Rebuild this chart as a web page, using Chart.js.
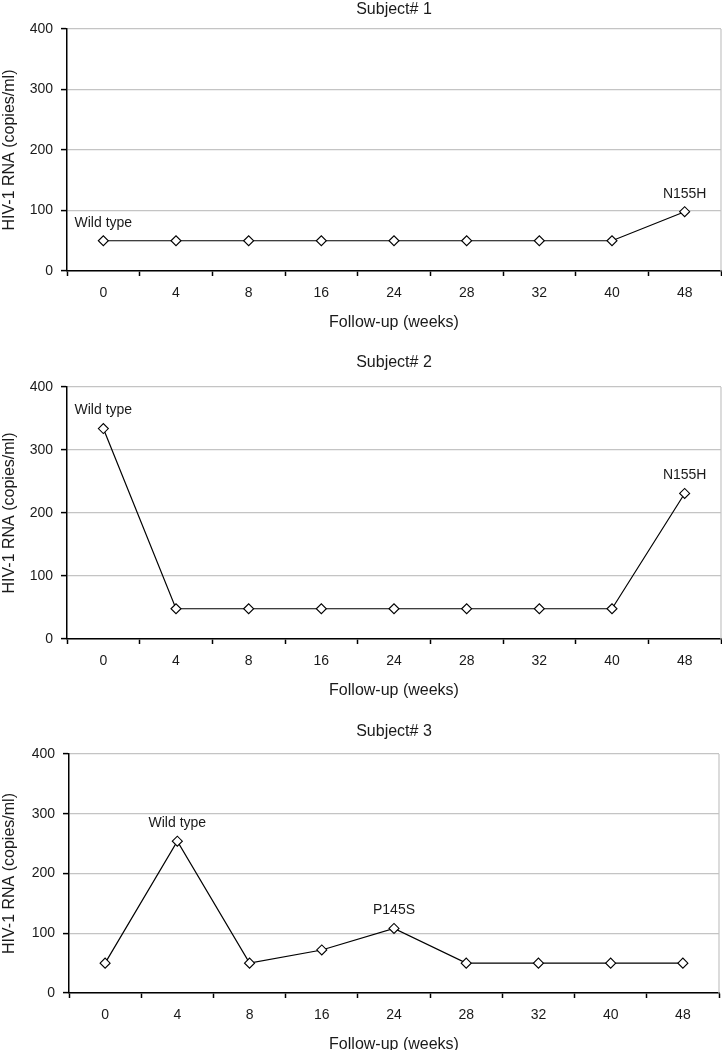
<!DOCTYPE html>
<html>
<head>
<meta charset="utf-8">
<script src="https://cdn.jsdelivr.net/npm/chart.js@4.4.1/dist/chart.umd.min.js"></script>
<style>
  body { margin: 0; background: #fff; overflow: hidden; }
  .panel { position: absolute; left: 0; }
</style>
</head>
<body>
<canvas id="chart1" class="panel" width="722" height="332" style="top:0px"></canvas>
<canvas id="chart2" class="panel" width="722" height="347" style="top:353px"></canvas>
<canvas id="chart3" class="panel" width="722" height="332" style="top:722px"></canvas>
<script>
// semanas de seguimiento (categorias del eje x)
const weeks = ['0', '4', '8', '16', '24', '28', '32', '40', '48']

// carga viral
const subject1 = [50, 50, 50, 50, 50, 50, 50, 50, 98]
const subject2 = [334, 48, 48, 48, 48, 48, 48, 48, 231]
const subject3 = [50, 254, 50, 72, 108, 50, 50, 50, 50]

// etiquetas de mutaciones: [indice de semana, texto]
const notes1 = [[0, 'Wild type'], [8, 'N155H']]
const notes2 = [[0, 'Wild type'], [8, 'N155H']]
const notes3 = [[1, 'Wild type'], [4, 'P145S']]

const yMin = 0
const yMax = 400
const yStep = 100

const FONT = '"Liberation Sans", Arial, sans-serif'
const TEXT = '#1a1a1a'
const GRID = '#c4c4c4'

const notasPlugin = {
  id: 'notas',
  beforeDatasetsDraw(chart) {
    const {ctx, chartArea} = chart
    ctx.save()
    ctx.strokeStyle = GRID
    ctx.lineWidth = 1.2
    ctx.beginPath()
    ctx.moveTo(chartArea.right, chartArea.top)
    ctx.lineTo(chartArea.right, chartArea.bottom)
    ctx.stroke()
    ctx.restore()
  },
  afterDatasetsDraw(chart, args, opts) {
    const {ctx, scales: {x, y}} = chart
    const values = chart.data.datasets[0].data
    ctx.save()
    ctx.font = '14px ' + FONT
    ctx.fillStyle = TEXT
    ctx.textAlign = 'center'
    ctx.textBaseline = 'middle'
    opts.items.forEach(([idx, text]) => {
      ctx.fillText(text, x.getPixelForValue(idx), y.getPixelForValue(values[idx]) - 18)
    })
    ctx.restore()
  }
}

const crearPanel = (canvasId, title, values, notes, titleGap, yWidth, rightPad) => {
  const ctx = document.querySelector(canvasId).getContext('2d')
  new Chart(ctx, {
    type: 'line',
    data: {
      labels: weeks,
      datasets: [{
        data: values,
        borderColor: '#000',
        borderWidth: 1.2,
        tension: 0,
        pointStyle: 'rectRot',
        pointRadius: 5,
        pointBackgroundColor: '#fff',
        pointBorderColor: '#000',
        pointBorderWidth: 1.1
      }]
    },
    options: {
      responsive: false,
      animation: false,
      layout: { autoPadding: false, padding: { left: 0, right: rightPad, top: 0, bottom: 0 } },
      plugins: {
        legend: { display: false },
        tooltip: { enabled: false },
        title: {
          display: true,
          text: title,
          fullSize: false,
          color: TEXT,
          font: { family: FONT, size: 16, weight: 'normal' },
          padding: { top: 0, bottom: titleGap }
        },
        notas: { items: notes }
      },
      scales: {
        x: {
          type: 'category',
          offset: true,
          grid: {
            offset: true,
            drawOnChartArea: false,
            drawTicks: true,
            tickLength: 5,
            tickColor: '#000',
            tickWidth: 1.5
          },
          border: { color: '#000', width: 1.5 },
          ticks: { color: TEXT, padding: 9, font: { family: FONT, size: 14 } },
          title: {
            display: true,
            text: 'Follow-up (weeks)',
            color: TEXT,
            font: { family: FONT, size: 16 },
            padding: { top: 2, bottom: 0 }
          }
        },
        y: {
          min: yMin,
          max: yMax,
          grid: { color: GRID, lineWidth: 1.2, tickColor: '#000', tickLength: 6, tickWidth: 1.5 },
          border: { color: '#000', width: 1.5 },
          ticks: { stepSize: yStep, color: TEXT, padding: 8, font: { family: FONT, size: 14 } },
          title: {
            display: true,
            text: 'HIV-1 RNA (copies/ml)',
            color: TEXT,
            font: { family: FONT, size: 16 },
            padding: { top: 0, bottom: 0 }
          },
          afterFit: (scale) => { scale.width = yWidth }
        }
      }
    },
    plugins: [notasPlugin]
  })
}

crearPanel('#chart1', 'Subject# 1', subject1, notes1, 9.8, 67, 1)
crearPanel('#chart2', 'Subject# 2', subject2, notes2, 14.8, 67, 1)
crearPanel('#chart3', 'Subject# 3', subject3, notes3, 12.8, 69, 3)
</script>
</body>
</html>
